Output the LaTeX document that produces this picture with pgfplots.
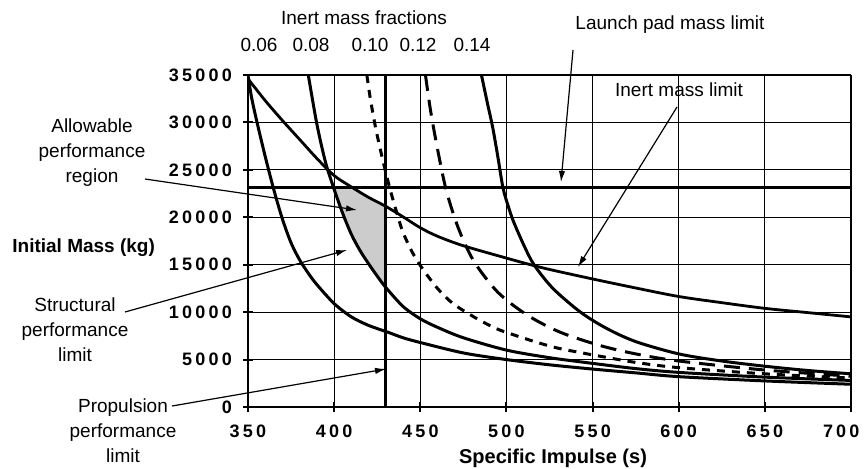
\documentclass[border=0pt]{standalone}
\usepackage{fontspec}
\setmainfont{Liberation Sans}
\newfontfamily\tickfont{Liberation Sans}[LetterSpace=18]
\usepackage{pgfplots}
\pgfplotsset{compat=1.18}
\usetikzlibrary{arrows.meta}

\begin{document}
\begin{tikzpicture}
\useasboundingbox (0,0) rectangle (432.5pt,234pt);
\begin{axis}[
    at={(124pt,30.5pt)}, anchor=south west,
    scale only axis, width=301.5pt, height=166pt,
    xmin=350, xmax=700, ymin=0, ymax=35000,
    xtick={350,400,...,700}, ytick={0,5000,...,35000},
    xticklabels={350,400,450,500,550,600,650,\makebox[28pt][l]{700}},
    axis lines=left, axis line style={-, line width=1.4pt},
    grid=major, major grid style={black, line width=0.55pt},
    tick align=center, major tick length=5pt,
    tick style={black, line width=1pt},
    scaled y ticks=false,
    /pgf/number format/1000 sep={},
    /pgf/number format/assume math mode=true,
    ticklabel style={font=\tickfont\bfseries\fontsize{9}{10}\selectfont},
    xticklabel style={yshift=-3pt},
    yticklabel style={xshift=-2pt},
  ]
  % allowable region
  \addplot[fill=gray!40, draw=none] coordinates {
    (399.8,23100)(410.9,23100)(420,22100)(430,21150)(430,12600)
    (425,13800)(420,15100)(415,16500)(410,18200)(405,20400)(399.8,23100)
  } -- cycle;

  % inert mass fraction 0.06
  \addplot[black, line width=1.5pt, smooth] coordinates {
    (350,35000)(352,32700)(355,30200)(360,26400)(365,22900)(370,19800)
    (375,17300)(380,15500)(385,14100)(390,12900)(400,10900)(410,9500)
    (420,8600)(431,7900)(440,7300)(450,6800)(475,5700)(500,5000)
    (525,4450)(550,4000)(575,3600)(600,3200)(650,2750)(700,2400)
  };
  % 0.08
  \addplot[black, line width=1.5pt, smooth] coordinates {
    (385,35000)(390,29800)(395,25800)(400,22950)(405,20400)(410,18200)
    (415,16500)(420,15100)(425,13800)(430,12600)(440,10600)(450,9300)
    (460,8400)(475,7300)(500,6000)(525,5200)(550,4600)(575,4050)
    (600,3650)(650,3150)(700,2800)
  };
  % 0.10
  \addplot[black, line width=1.5pt, smooth, dash pattern=on 4pt off 3.5pt] coordinates {
    (419,35000)(421,32500)(424,29500)(427,27000)(430,24700)(433,22600)
    (436,20700)(440,18400)(446,16100)(452,14400)(460,12500)(469,10900)
    (483,9300)(495,8200)(506,7500)(518,6800)(530,6200)(544,5700)
    (556,5300)(575,4700)(600,4150)(650,3500)(700,3050)
  };
  % 0.12
  \addplot[black, line width=1.5pt, smooth, dash pattern=on 8pt off 4.5pt] coordinates {
    (453,35000)(456,31200)(460,27200)(465,22900)(472,18900)(481,15400)
    (495,12100)(512,9700)(531,7900)(554,6500)(575,5600)(600,4850)
    (650,3900)(700,3250)
  };
  % 0.14
  \addplot[black, line width=1.5pt, smooth] coordinates {
    (485.5,35000)(489,32000)(492,29500)(495,26400)(498,23100)(501,21200)
    (504,19600)(510,17100)(516,15000)(527,12500)(543,10000)(558,8300)
    (575,6900)(600,5600)(625,4850)(650,4300)(675,3850)(700,3500)
  };
  % inert mass limit
  \addplot[black, line width=1.4pt, smooth] coordinates {
    (350,34600)(360,32300)(370,30200)(380,28200)(390,26200)(400,24400)
    (410,23200)(420,22100)(430,21150)(440,20050)(450,18900)(460,18000)
    (475,17000)(500,15700)(514,15000)(525,14500)(550,13500)(575,12550)
    (600,11650)(625,11000)(650,10400)(675,9950)(700,9500)
  };
  % launch pad mass limit
  \addplot[black, line width=1.5pt] coordinates {(350,23100)(700,23100)};
  % propulsion performance limit
  \addplot[black, line width=1.4pt] coordinates {(430,0)(430,35000)};
\end{axis}

\begin{scope}[x=0.5pt, y=-0.5pt, yshift=234pt,
    every node/.style={font=\fontsize{9.5}{12.5}\selectfont, inner sep=0pt},
    arr/.style={line width=0.6pt, -{Latex[length=5.5pt,width=3.2pt]}}]
  \node at (364,18) {Inert mass fractions};
  \node at (259,45) {0.06};
  \node at (311,45) {0.08};
  \node at (370,45) {0.10};
  \node at (418,45) {0.12};
  \node at (472,45) {0.14};

  \node at (670,25) {Launch pad mass limit};
  \draw[arr] (573,50) -- (561,182);

  \node at (679,90) {Inert mass limit};
  \draw[arr] (677,107) -- (578,267);

  \node[align=center] at (92,153) {Allowable\\performance\\region};
  \draw[arr] (145,179) -- (357,210);

  \node[anchor=west, font=\bfseries\fontsize{9.5}{11}\selectfont] at (12,248) {Initial Mass (kg)};

  \node[align=center] at (75,330) {Structural\\performance\\limit};
  \draw[arr] (125,312) -- (347,250);

  \node[align=center] at (123,431) {Propulsion\\performance\\limit};
  \draw[arr] (172,406) -- (386,369);

  \node[font=\bfseries\fontsize{10}{12}\selectfont] at (553,458) {Specific Impulse (s)};
\end{scope}
\end{tikzpicture}
\end{document}
